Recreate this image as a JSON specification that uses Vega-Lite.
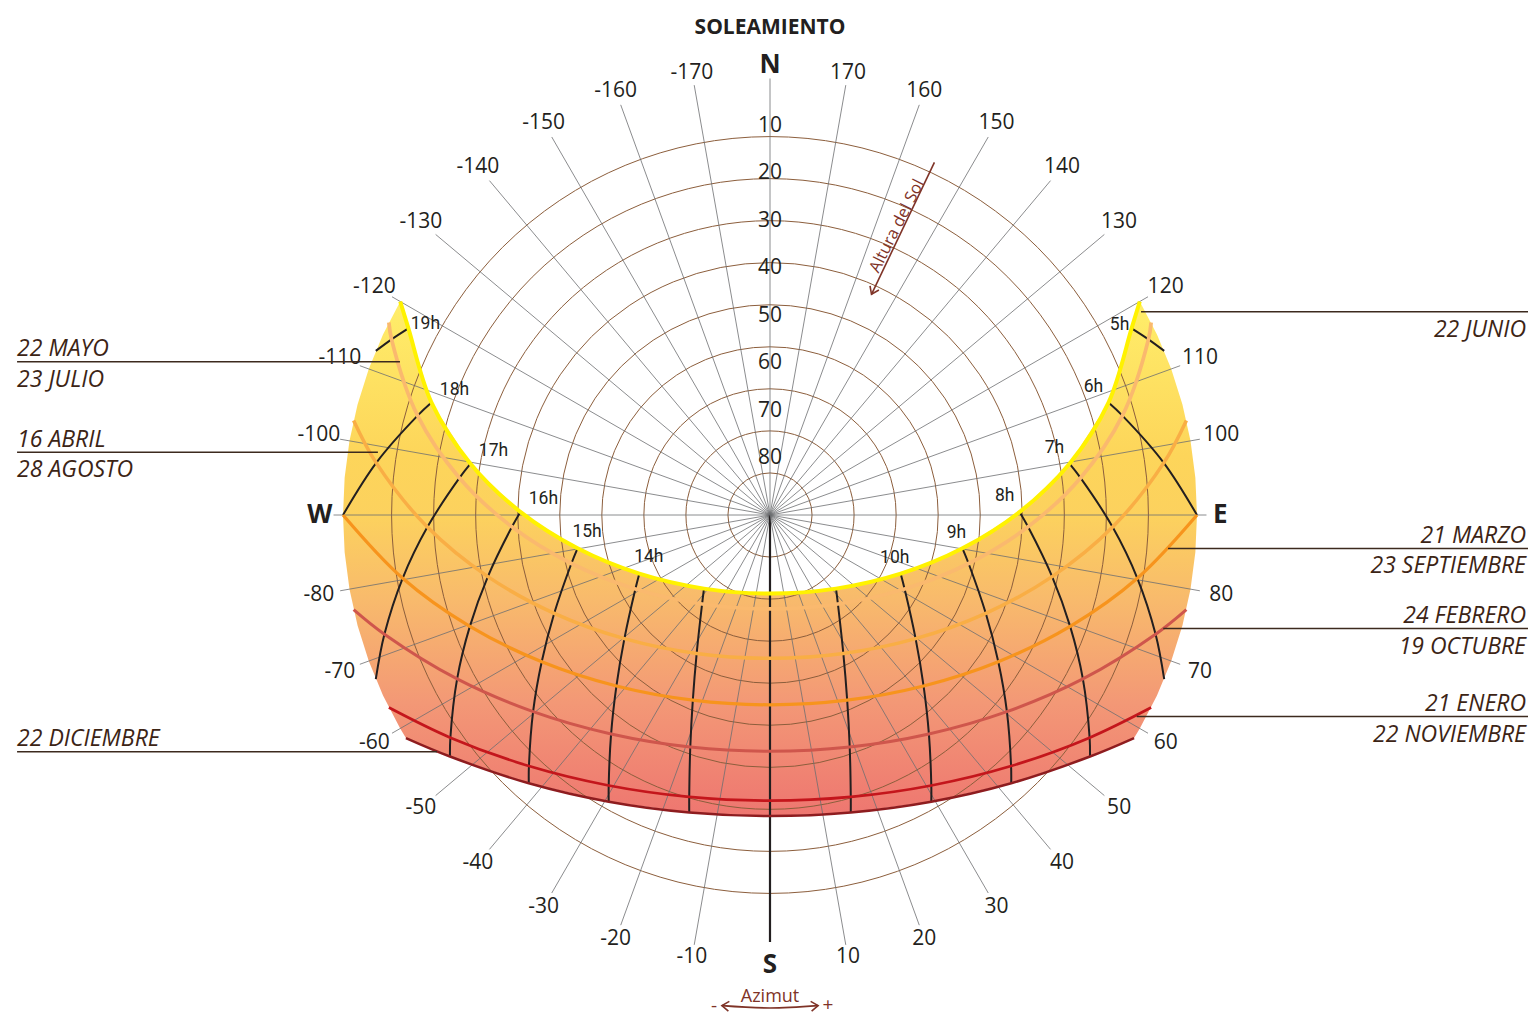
{
  "$schema": "https://vega.github.io/schema/vega-lite/v6.json",
  "width": 1516,
  "height": 1012,
  "autosize": {"type": "none"},
  "padding": {"left": 12, "top": 9, "right": 0, "bottom": 0},
  "background": "white",
  "config": {"view": {"stroke": null}},
  "datasets": {
    "alts": [{"alt": 0}, {"alt": 10}, {"alt": 20}, {"alt": 30}, {"alt": 40}, {"alt": 50}, {"alt": 60}, {"alt": 70}, {"alt": 80}],
    "azs": [
      {"az": -170}, {"az": -160}, {"az": -150}, {"az": -140}, {"az": -130}, {"az": -120}, {"az": -110}, {"az": -100}, {"az": -90},
      {"az": -80}, {"az": -70}, {"az": -60}, {"az": -50}, {"az": -40}, {"az": -30}, {"az": -20}, {"az": -10}, {"az": 0},
      {"az": 10}, {"az": 20}, {"az": 30}, {"az": 40}, {"az": 50}, {"az": 60}, {"az": 70}, {"az": 80}, {"az": 90},
      {"az": 100}, {"az": 110}, {"az": 120}, {"az": 130}, {"az": 140}, {"az": 150}, {"az": 160}, {"az": 170}, {"az": 180}
    ],
    "azlab": [
      {"az": -170, "t": "-170"}, {"az": -160, "t": "-160"}, {"az": -150, "t": "-150"}, {"az": -140, "t": "-140"},
      {"az": -130, "t": "-130"}, {"az": -120, "t": "-120"}, {"az": -110, "t": "-110"}, {"az": -100, "t": "-100"},
      {"az": -80, "t": "-80"}, {"az": -70, "t": "-70"}, {"az": -60, "t": "-60"}, {"az": -50, "t": "-50"},
      {"az": -40, "t": "-40"}, {"az": -30, "t": "-30"}, {"az": -20, "t": "-20"}, {"az": -10, "t": "-10"},
      {"az": 10, "t": "10"}, {"az": 20, "t": "20"}, {"az": 30, "t": "30"}, {"az": 40, "t": "40"},
      {"az": 50, "t": "50"}, {"az": 60, "t": "60"}, {"az": 70, "t": "70"}, {"az": 80, "t": "80"},
      {"az": 100, "t": "100"}, {"az": 110, "t": "110"}, {"az": 120, "t": "120"}, {"az": 130, "t": "130"},
      {"az": 140, "t": "140"}, {"az": 150, "t": "150"}, {"az": 160, "t": "160"}, {"az": 170, "t": "170"}
    ],
    "cards": [{"az": 180, "t": "N"}, {"az": 0, "t": "S"}, {"az": 90, "t": "E"}, {"az": -90, "t": "W"}],
    "leaders": [
      {"t1": "22 MAYO", "t2": "23 JULIO", "side": "L", "az": -112.5, "alt": 5.58},
      {"t1": "16 ABRIL", "t2": "28 AGOSTO", "side": "L", "az": -99.1, "alt": 6.3},
      {"t1": "22 DICIEMBRE", "t2": "", "side": "L", "az": -54.6, "alt": 3.9},
      {"t1": "", "t2": "22 JUNIO", "side": "R", "az": 118.7, "alt": 0.84},
      {"t1": "21 MARZO", "t2": "23 SEPTIEMBRE", "side": "R", "az": 85.2, "alt": 5.8},
      {"t1": "24 FEBRERO", "t2": "19 OCTUBRE", "side": "R", "az": 73.9, "alt": 3.73},
      {"t1": "21 ENERO", "t2": "22 NOVIEMBRE", "side": "R", "az": 61.2, "alt": 1.79}
    ],
    "azarrow": [{"az": -5.6, "alt": -13.9}, {"az": 0, "alt": -13.9}, {"az": 5.6, "alt": -13.9}],
    "sun": [
      {"d": "d1", "o": 1, "h": null, "az": -120, "alt": 0},
      {"d": "d1", "o": 1, "h": 19, "az": -117.3, "alt": 4.23},
      {"d": "d1", "o": 1, "h": 18, "az": -108.37, "alt": 14.82},
      {"d": "d1", "o": 1, "h": 17, "az": -99.73, "alt": 25.95},
      {"d": "d1", "o": 1, "h": 16, "az": -90.71, "alt": 37.38},
      {"d": "d1", "o": 1, "h": 15, "az": -80.18, "alt": 48.83},
      {"d": "d1", "o": 1, "h": 14, "az": -65.81, "alt": 59.8},
      {"d": "d1", "o": 1, "h": 13, "az": -41.87, "alt": 69.16},
      {"d": "d1", "o": 1, "h": 12, "az": 0, "alt": 73.44},
      {"d": "d1", "o": 1, "h": 11, "az": 41.87, "alt": 69.16},
      {"d": "d1", "o": 1, "h": 10, "az": 65.81, "alt": 59.8},
      {"d": "d1", "o": 1, "h": 9, "az": 80.18, "alt": 48.83},
      {"d": "d1", "o": 1, "h": 8, "az": 90.71, "alt": 37.38},
      {"d": "d1", "o": 1, "h": 7, "az": 99.73, "alt": 25.95},
      {"d": "d1", "o": 1, "h": 6, "az": 108.37, "alt": 14.82},
      {"d": "d1", "o": 1, "h": 5, "az": 117.3, "alt": 4.23},
      {"d": "d1", "o": 1, "h": null, "az": 120, "alt": 0},

      {"d": "d2", "o": 2, "h": null, "az": -116.8, "alt": 0},
      {"d": "d2", "o": 2, "h": 19, "az": -114.9, "alt": 2.06},
      {"d": "d2", "o": 2, "h": 18, "az": -105.74, "alt": 12.83},
      {"d": "d2", "o": 2, "h": 17, "az": -96.81, "alt": 24.08},
      {"d": "d2", "o": 2, "h": 16, "az": -87.38, "alt": 35.55},
      {"d": "d2", "o": 2, "h": 15, "az": -76.27, "alt": 46.91},
      {"d": "d2", "o": 2, "h": 14, "az": -61.2, "alt": 57.62},
      {"d": "d2", "o": 2, "h": 13, "az": -37.35, "alt": 66.4},
      {"d": "d2", "o": 2, "h": 12, "az": 0, "alt": 70.2},
      {"d": "d2", "o": 2, "h": 11, "az": 37.35, "alt": 66.4},
      {"d": "d2", "o": 2, "h": 10, "az": 61.2, "alt": 57.62},
      {"d": "d2", "o": 2, "h": 9, "az": 76.27, "alt": 46.91},
      {"d": "d2", "o": 2, "h": 8, "az": 87.38, "alt": 35.55},
      {"d": "d2", "o": 2, "h": 7, "az": 96.81, "alt": 24.08},
      {"d": "d2", "o": 2, "h": 6, "az": 105.74, "alt": 12.83},
      {"d": "d2", "o": 2, "h": 5, "az": 114.9, "alt": 2.06},
      {"d": "d2", "o": 2, "h": null, "az": 116.8, "alt": 0},

      {"d": "d3", "o": 3, "h": null, "az": -102.8, "alt": 0},
      {"d": "d3", "o": 3, "h": 18, "az": -97.54, "alt": 6.28},
      {"d": "d3", "o": 3, "h": 17, "az": -87.98, "alt": 17.74},
      {"d": "d3", "o": 3, "h": 16, "az": -77.68, "alt": 29.13},
      {"d": "d3", "o": 3, "h": 15, "az": -65.5, "alt": 40.02},
      {"d": "d3", "o": 3, "h": 14, "az": -49.67, "alt": 49.74},
      {"d": "d3", "o": 3, "h": 13, "az": -27.91, "alt": 56.98},
      {"d": "d3", "o": 3, "h": 12, "az": 0, "alt": 59.8},
      {"d": "d3", "o": 3, "h": 11, "az": 27.91, "alt": 56.98},
      {"d": "d3", "o": 3, "h": 10, "az": 49.67, "alt": 49.74},
      {"d": "d3", "o": 3, "h": 9, "az": 65.5, "alt": 40.02},
      {"d": "d3", "o": 3, "h": 8, "az": 77.68, "alt": 29.13},
      {"d": "d3", "o": 3, "h": 7, "az": 87.98, "alt": 17.74},
      {"d": "d3", "o": 3, "h": 6, "az": 97.54, "alt": 6.28},
      {"d": "d3", "o": 3, "h": null, "az": 102.8, "alt": 0},

      {"d": "d4", "o": 4, "h": 18, "az": -90, "alt": 0},
      {"d": "d4", "o": 4, "h": 17, "az": -80.23, "alt": 11.43},
      {"d": "d4", "o": 4, "h": 16, "az": -69.64, "alt": 22.52},
      {"d": "d4", "o": 4, "h": 15, "az": -57.27, "alt": 32.8},
      {"d": "d4", "o": 4, "h": 14, "az": -41.93, "alt": 41.56},
      {"d": "d4", "o": 4, "h": 13, "az": -22.63, "alt": 47.72},
      {"d": "d4", "o": 4, "h": 12, "az": 0, "alt": 50},
      {"d": "d4", "o": 4, "h": 11, "az": 22.63, "alt": 47.72},
      {"d": "d4", "o": 4, "h": 10, "az": 41.93, "alt": 41.56},
      {"d": "d4", "o": 4, "h": 9, "az": 57.27, "alt": 32.8},
      {"d": "d4", "o": 4, "h": 8, "az": 69.64, "alt": 22.52},
      {"d": "d4", "o": 4, "h": 7, "az": 80.23, "alt": 11.43},
      {"d": "d4", "o": 4, "h": 6, "az": 90, "alt": 0},

      {"d": "d5", "o": 5, "h": null, "az": -77.2, "alt": 0},
      {"d": "d5", "o": 5, "h": 17, "az": -72.82, "alt": 4.93},
      {"d": "d5", "o": 5, "h": 16, "az": -62.35, "alt": 15.55},
      {"d": "d5", "o": 5, "h": 15, "az": -50.31, "alt": 25.11},
      {"d": "d5", "o": 5, "h": 14, "az": -35.97, "alt": 32.98},
      {"d": "d5", "o": 5, "h": 13, "az": -18.96, "alt": 38.29},
      {"d": "d5", "o": 5, "h": 12, "az": 0, "alt": 40.2},
      {"d": "d5", "o": 5, "h": 11, "az": 18.96, "alt": 38.29},
      {"d": "d5", "o": 5, "h": 10, "az": 35.97, "alt": 32.98},
      {"d": "d5", "o": 5, "h": 9, "az": 50.31, "alt": 25.11},
      {"d": "d5", "o": 5, "h": 8, "az": 62.35, "alt": 15.55},
      {"d": "d5", "o": 5, "h": 7, "az": 72.82, "alt": 4.93},
      {"d": "d5", "o": 5, "h": null, "az": 77.2, "alt": 0},

      {"d": "d6", "o": 6, "h": null, "az": -63.2, "alt": 0},
      {"d": "d6", "o": 6, "h": 16, "az": -55.14, "alt": 7.9},
      {"d": "d6", "o": 6, "h": 15, "az": -43.84, "alt": 16.64},
      {"d": "d6", "o": 6, "h": 14, "az": -30.81, "alt": 23.62},
      {"d": "d6", "o": 6, "h": 13, "az": -15.99, "alt": 28.19},
      {"d": "d6", "o": 6, "h": 12, "az": 0, "alt": 29.8},
      {"d": "d6", "o": 6, "h": 11, "az": 15.99, "alt": 28.19},
      {"d": "d6", "o": 6, "h": 10, "az": 30.81, "alt": 23.62},
      {"d": "d6", "o": 6, "h": 9, "az": 43.84, "alt": 16.64},
      {"d": "d6", "o": 6, "h": 8, "az": 55.14, "alt": 7.9},
      {"d": "d6", "o": 6, "h": null, "az": 63.2, "alt": 0},

      {"d": "d7", "o": 7, "h": null, "az": -58.5, "alt": 0},
      {"d": "d7", "o": 7, "h": 16, "az": -52.96, "alt": 5.49},
      {"d": "d7", "o": 7, "h": 15, "az": -41.96, "alt": 13.96},
      {"d": "d7", "o": 7, "h": 14, "az": -29.36, "alt": 20.66},
      {"d": "d7", "o": 7, "h": 13, "az": -15.19, "alt": 25.03},
      {"d": "d7", "o": 7, "h": 12, "az": 0, "alt": 26.56},
      {"d": "d7", "o": 7, "h": 11, "az": 15.19, "alt": 25.03},
      {"d": "d7", "o": 7, "h": 10, "az": 29.36, "alt": 20.66},
      {"d": "d7", "o": 7, "h": 9, "az": 41.96, "alt": 13.96},
      {"d": "d7", "o": 7, "h": 8, "az": 52.96, "alt": 5.49},
      {"d": "d7", "o": 7, "h": null, "az": 58.5, "alt": 0},

      {"d": "hz", "o": 2.5, "h": 19, "az": -112.6, "alt": 0},
      {"d": "hz", "o": 2.5, "h": 5, "az": 112.6, "alt": 0},
      {"d": "hz", "o": 5.5, "h": 17, "az": -67.4, "alt": 0},
      {"d": "hz", "o": 5.5, "h": 7, "az": 67.4, "alt": 0},

      {"d": "hE", "o": 0, "h": null, "az": 115, "alt": 0},
      {"d": "hE", "o": 0, "h": null, "az": 110, "alt": 0},
      {"d": "hE", "o": 0, "h": null, "az": 105, "alt": 0},
      {"d": "hE", "o": 0, "h": null, "az": 100, "alt": 0},
      {"d": "hE", "o": 0, "h": null, "az": 95, "alt": 0},
      {"d": "hE", "o": 0, "h": null, "az": 90, "alt": 0},
      {"d": "hE", "o": 0, "h": null, "az": 85, "alt": 0},
      {"d": "hE", "o": 0, "h": null, "az": 80, "alt": 0},
      {"d": "hE", "o": 0, "h": null, "az": 75, "alt": 0},
      {"d": "hE", "o": 0, "h": null, "az": 70, "alt": 0},
      {"d": "hE", "o": 0, "h": null, "az": 65, "alt": 0},
      {"d": "hE", "o": 0, "h": null, "az": 60, "alt": 0},
      {"d": "hW", "o": 0, "h": null, "az": -60, "alt": 0},
      {"d": "hW", "o": 0, "h": null, "az": -65, "alt": 0},
      {"d": "hW", "o": 0, "h": null, "az": -70, "alt": 0},
      {"d": "hW", "o": 0, "h": null, "az": -75, "alt": 0},
      {"d": "hW", "o": 0, "h": null, "az": -80, "alt": 0},
      {"d": "hW", "o": 0, "h": null, "az": -85, "alt": 0},
      {"d": "hW", "o": 0, "h": null, "az": -90, "alt": 0},
      {"d": "hW", "o": 0, "h": null, "az": -95, "alt": 0},
      {"d": "hW", "o": 0, "h": null, "az": -100, "alt": 0},
      {"d": "hW", "o": 0, "h": null, "az": -105, "alt": 0},
      {"d": "hW", "o": 0, "h": null, "az": -110, "alt": 0},
      {"d": "hW", "o": 0, "h": null, "az": -115, "alt": 0}
    ]
  },
  "layer": [
    {
      "data": {"name": "sun"},
      "transform": [
        {"filter": "datum.d == 'd1' || datum.d == 'd7' || datum.d == 'hE' || datum.d == 'hW'"},
        {"calculate": "(90 - datum.alt) * sin(datum.az * PI / 180)", "as": "px"},
        {"calculate": "-(90 - datum.alt) * cos(datum.az * PI / 180)", "as": "py"},
        {"calculate": "datum.d == 'd1' ? datum.az : (datum.d == 'hE' ? 1000 - datum.az : (datum.d == 'd7' ? 2000 - datum.az : 3000 - datum.az))", "as": "ord"}
      ],
      "mark": {
        "type": "line",
        "interpolate": "linear-closed",
        "strokeWidth": 0,
        "fill": {
          "gradient": "linear", "x1": 0, "y1": 0, "x2": 0, "y2": 1,
          "stops": [
            {"offset": 0, "color": "#FFEE6A"},
            {"offset": 0.3, "color": "#FDD55A"},
            {"offset": 0.42, "color": "#FCD15E"},
            {"offset": 0.58, "color": "#F8BA6C"},
            {"offset": 0.78, "color": "#F39876"},
            {"offset": 1, "color": "#EE7670"}
          ]
        }
      },
      "encoding": {
        "x": {"field": "px", "type": "quantitative", "scale": {"domain": [-159.77, 159.77], "nice": false, "zero": false}, "axis": null},
        "y": {"field": "py", "type": "quantitative", "scale": {"domain": [-106.65, 106.65], "nice": false, "zero": false}, "axis": null},
        "order": {"field": "ord", "type": "quantitative"}
      }
    },
    {
      "data": {"name": "alts"},
      "transform": [{"calculate": "90 - datum.alt", "as": "rr"}],
      "mark": {"type": "point", "shape": "circle", "filled": false, "stroke": "#8C5E3C", "strokeWidth": 1, "opacity": 1},
      "encoding": {
        "x": {"datum": 0, "type": "quantitative", "scale": {"domain": [-159.77, 159.77], "nice": false, "zero": false}, "axis": null},
        "y": {"datum": 0, "type": "quantitative", "scale": {"domain": [-106.65, 106.65], "nice": false, "zero": false}, "axis": null},
        "size": {"field": "rr", "type": "quantitative", "legend": null, "scale": {"type": "pow", "exponent": 2, "domain": [0, 90], "range": [0, 572805], "zero": true}}
      }
    },
    {
      "data": {"name": "azs"},
      "transform": [
        {"calculate": "(datum.az == 0 ? 90 : 92) * sin(datum.az * PI / 180)", "as": "xe"},
        {"calculate": "-(datum.az == 0 ? 90 : 92) * cos(datum.az * PI / 180)", "as": "ye"},
        {"calculate": "0", "as": "zero"}
      ],
      "mark": {"type": "rule"},
      "encoding": {
        "x": {"field": "zero", "type": "quantitative", "scale": {"domain": [-159.77, 159.77], "nice": false, "zero": false}, "axis": null},
        "y": {"field": "zero", "type": "quantitative", "scale": {"domain": [-106.65, 106.65], "nice": false, "zero": false}, "axis": null},
        "x2": {"field": "xe"},
        "y2": {"field": "ye"},
        "color": {"condition": {"test": "datum.az == 0", "value": "#231F20"}, "value": "#6D6E71"},
        "strokeWidth": {"condition": {"test": "datum.az == 0", "value": 2.2}, "value": 0.8}
      }
    },
    {
      "data": {"name": "alts"},
      "transform": [{"filter": "datum.alt > 0"}, {"calculate": "90 - datum.alt", "as": "rr"}, {"calculate": "'' + datum.alt", "as": "t"}, {"calculate": "0", "as": "zero"}],
      "mark": {"type": "text", "font": "Open Sans", "fontSize": 21, "color": "#231F20", "baseline": "alphabetic", "align": "center", "dy": -3.5},
      "encoding": {
        "x": {"field": "zero", "type": "quantitative", "scale": {"domain": [-159.77, 159.77], "nice": false, "zero": false}, "axis": null},
        "y": {"field": "rr", "type": "quantitative", "scale": {"domain": [-106.65, 106.65], "nice": false, "zero": false}, "axis": null},
        "text": {"field": "t"}
      }
    },
    {
      "data": {"name": "sun"},
      "transform": [
        {"filter": "datum.h != null"},
        {"calculate": "(90 - datum.alt) * sin(datum.az * PI / 180)", "as": "px"},
        {"calculate": "-(90 - datum.alt) * cos(datum.az * PI / 180)", "as": "py"}
      ],
      "mark": {"type": "line", "interpolate": "catmull-rom", "color": "#231F20", "strokeWidth": 2},
      "encoding": {
        "x": {"field": "px", "type": "quantitative", "scale": {"domain": [-159.77, 159.77], "nice": false, "zero": false}, "axis": null},
        "y": {"field": "py", "type": "quantitative", "scale": {"domain": [-106.65, 106.65], "nice": false, "zero": false}, "axis": null},
        "detail": {"field": "h", "type": "nominal"},
        "order": {"field": "o", "type": "quantitative"}
      }
    },
    {
      "data": {"name": "sun"},
      "transform": [
        {"filter": "datum.d == 'd1' || datum.d == 'd2' || datum.d == 'd3' || datum.d == 'd4' || datum.d == 'd5' || datum.d == 'd6' || datum.d == 'd7'"},
        {"calculate": "(90 - datum.alt) * sin(datum.az * PI / 180)", "as": "px"},
        {"calculate": "-(90 - datum.alt) * cos(datum.az * PI / 180)", "as": "py"}
      ],
      "mark": {"type": "line", "interpolate": "catmull-rom"},
      "encoding": {
        "x": {"field": "px", "type": "quantitative", "scale": {"domain": [-159.77, 159.77], "nice": false, "zero": false}, "axis": null},
        "y": {"field": "py", "type": "quantitative", "scale": {"domain": [-106.65, 106.65], "nice": false, "zero": false}, "axis": null},
        "color": {"field": "d", "type": "nominal", "legend": null, "scale": {"domain": ["d1", "d2", "d3", "d4", "d5", "d6", "d7"], "range": ["#FFF200", "#FAB96E", "#F9AE45", "#F7941D", "#CF564C", "#C4161C", "#8E1C1F"]}},
        "strokeWidth": {"field": "d", "type": "nominal", "legend": null, "scale": {"domain": ["d1", "d2", "d3", "d4", "d5", "d6", "d7"], "range": [4, 2.5, 2.5, 2.5, 2.5, 2.5, 2.5]}},
        "order": {"field": "az", "type": "quantitative"}
      }
    },
    {
      "data": {"name": "sun"},
      "transform": [
        {"filter": "datum.d == 'd1' && datum.h == 5"},
        {"calculate": "(90 - datum.alt) * sin(datum.az * PI / 180)", "as": "px"},
        {"calculate": "-(90 - datum.alt) * cos(datum.az * PI / 180)", "as": "py"},
        {"calculate": "datum.h + 'h'", "as": "lab"}
      ],
      "mark": {"type": "text", "font": "Roboto", "fontSize": 17.5, "color": "#231F20", "align": "center", "baseline": "middle", "dx": -12, "dy": -3},
      "encoding": {
        "x": {"field": "px", "type": "quantitative", "scale": {"domain": [-159.77, 159.77], "nice": false, "zero": false}, "axis": null},
        "y": {"field": "py", "type": "quantitative", "scale": {"domain": [-106.65, 106.65], "nice": false, "zero": false}, "axis": null},
        "text": {"field": "lab"}
      }
    },
    {
      "data": {"name": "sun"},
      "transform": [
        {"filter": "datum.d == 'd1' && datum.h >= 6 && datum.h <= 8"},
        {"calculate": "(90 - datum.alt) * sin(datum.az * PI / 180)", "as": "px"},
        {"calculate": "-(90 - datum.alt) * cos(datum.az * PI / 180)", "as": "py"},
        {"calculate": "datum.h + 'h'", "as": "lab"}
      ],
      "mark": {"type": "text", "font": "Roboto", "fontSize": 17.5, "color": "#231F20", "align": "center", "baseline": "middle", "dx": -15, "dy": -15.5},
      "encoding": {
        "x": {"field": "px", "type": "quantitative", "scale": {"domain": [-159.77, 159.77], "nice": false, "zero": false}, "axis": null},
        "y": {"field": "py", "type": "quantitative", "scale": {"domain": [-106.65, 106.65], "nice": false, "zero": false}, "axis": null},
        "text": {"field": "lab"}
      }
    },
    {
      "data": {"name": "sun"},
      "transform": [
        {"filter": "datum.d == 'd1' && datum.h >= 9 && datum.h <= 10"},
        {"calculate": "(90 - datum.alt) * sin(datum.az * PI / 180)", "as": "px"},
        {"calculate": "-(90 - datum.alt) * cos(datum.az * PI / 180)", "as": "py"},
        {"calculate": "datum.h + 'h'", "as": "lab"}
      ],
      "mark": {"type": "text", "font": "Roboto", "fontSize": 17.5, "color": "#231F20", "align": "center", "baseline": "middle", "dx": -6, "dy": -15.5},
      "encoding": {
        "x": {"field": "px", "type": "quantitative", "scale": {"domain": [-159.77, 159.77], "nice": false, "zero": false}, "axis": null},
        "y": {"field": "py", "type": "quantitative", "scale": {"domain": [-106.65, 106.65], "nice": false, "zero": false}, "axis": null},
        "text": {"field": "lab"}
      }
    },
    {
      "data": {"name": "sun"},
      "transform": [
        {"filter": "datum.d == 'd1' && datum.h == 19"},
        {"calculate": "(90 - datum.alt) * sin(datum.az * PI / 180)", "as": "px"},
        {"calculate": "-(90 - datum.alt) * cos(datum.az * PI / 180)", "as": "py"},
        {"calculate": "datum.h + 'h'", "as": "lab"}
      ],
      "mark": {"type": "text", "font": "Roboto", "fontSize": 17.5, "color": "#231F20", "align": "center", "baseline": "middle", "dx": 17, "dy": -4},
      "encoding": {
        "x": {"field": "px", "type": "quantitative", "scale": {"domain": [-159.77, 159.77], "nice": false, "zero": false}, "axis": null},
        "y": {"field": "py", "type": "quantitative", "scale": {"domain": [-106.65, 106.65], "nice": false, "zero": false}, "axis": null},
        "text": {"field": "lab"}
      }
    },
    {
      "data": {"name": "sun"},
      "transform": [
        {"filter": "datum.d == 'd1' && datum.h >= 16 && datum.h <= 18"},
        {"calculate": "(90 - datum.alt) * sin(datum.az * PI / 180)", "as": "px"},
        {"calculate": "-(90 - datum.alt) * cos(datum.az * PI / 180)", "as": "py"},
        {"calculate": "datum.h + 'h'", "as": "lab"}
      ],
      "mark": {"type": "text", "font": "Roboto", "fontSize": 17.5, "color": "#231F20", "align": "center", "baseline": "middle", "dx": 23, "dy": -12.5},
      "encoding": {
        "x": {"field": "px", "type": "quantitative", "scale": {"domain": [-159.77, 159.77], "nice": false, "zero": false}, "axis": null},
        "y": {"field": "py", "type": "quantitative", "scale": {"domain": [-106.65, 106.65], "nice": false, "zero": false}, "axis": null},
        "text": {"field": "lab"}
      }
    },
    {
      "data": {"name": "sun"},
      "transform": [
        {"filter": "datum.d == 'd1' && datum.h >= 14 && datum.h <= 15"},
        {"calculate": "(90 - datum.alt) * sin(datum.az * PI / 180)", "as": "px"},
        {"calculate": "-(90 - datum.alt) * cos(datum.az * PI / 180)", "as": "py"},
        {"calculate": "datum.h + 'h'", "as": "lab"}
      ],
      "mark": {"type": "text", "font": "Roboto", "fontSize": 17.5, "color": "#231F20", "align": "center", "baseline": "middle", "dx": 9.5, "dy": -16.5},
      "encoding": {
        "x": {"field": "px", "type": "quantitative", "scale": {"domain": [-159.77, 159.77], "nice": false, "zero": false}, "axis": null},
        "y": {"field": "py", "type": "quantitative", "scale": {"domain": [-106.65, 106.65], "nice": false, "zero": false}, "axis": null},
        "text": {"field": "lab"}
      }
    },
    {
      "data": {"name": "azlab"},
      "transform": [
        {"calculate": "94.3 + 2.3 * abs(sin(datum.az * PI / 180))", "as": "lr"},
        {"calculate": "datum.lr * sin(datum.az * PI / 180)", "as": "lx"},
        {"calculate": "-datum.lr * cos(datum.az * PI / 180)", "as": "ly"}
      ],
      "mark": {"type": "text", "font": "Open Sans", "fontSize": 21, "color": "#231F20", "align": "center", "baseline": "middle"},
      "encoding": {
        "x": {"field": "lx", "type": "quantitative", "scale": {"domain": [-159.77, 159.77], "nice": false, "zero": false}, "axis": null},
        "y": {"field": "ly", "type": "quantitative", "scale": {"domain": [-106.65, 106.65], "nice": false, "zero": false}, "axis": null},
        "text": {"field": "t"}
      }
    },
    {
      "data": {"name": "cards"},
      "transform": [
        {"calculate": "94.9 * sin(datum.az * PI / 180)", "as": "lx"},
        {"calculate": "-94.9 * cos(datum.az * PI / 180)", "as": "ly"}
      ],
      "mark": {"type": "text", "font": "Open Sans", "fontSize": 26, "fontWeight": "bold", "color": "#231F20", "align": "center", "baseline": "middle"},
      "encoding": {
        "x": {"field": "lx", "type": "quantitative", "scale": {"domain": [-159.77, 159.77], "nice": false, "zero": false}, "axis": null},
        "y": {"field": "ly", "type": "quantitative", "scale": {"domain": [-106.65, 106.65], "nice": false, "zero": false}, "axis": null},
        "text": {"field": "t"}
      }
    },
    {
      "data": {"name": "leaders"},
      "transform": [
        {"calculate": "(90 - datum.alt) * sin(datum.az * PI / 180)", "as": "px"},
        {"calculate": "-(90 - datum.alt) * cos(datum.az * PI / 180)", "as": "py"},
        {"calculate": "datum.side == 'L' ? -158.7 : 159.77", "as": "xe"}
      ],
      "mark": {"type": "rule", "color": "#3C2A1E", "strokeWidth": 1.5},
      "encoding": {
        "x": {"field": "px", "type": "quantitative", "scale": {"domain": [-159.77, 159.77], "nice": false, "zero": false}, "axis": null},
        "x2": {"field": "xe"},
        "y": {"field": "py", "type": "quantitative", "scale": {"domain": [-106.65, 106.65], "nice": false, "zero": false}, "axis": null}
      }
    },
    {
      "data": {"name": "leaders"},
      "transform": [
        {"filter": "datum.side == 'L'"},
        {"calculate": "-(90 - datum.alt) * cos(datum.az * PI / 180)", "as": "py"},
        {"calculate": "-158.7", "as": "tx"}
      ],
      "mark": {"type": "text", "font": "Open Sans", "fontStyle": "italic", "fontSize": 23, "color": "#3C2415", "align": "left", "baseline": "alphabetic", "dy": -5.5},
      "encoding": {
        "x": {"field": "tx", "type": "quantitative", "scale": {"domain": [-159.77, 159.77], "nice": false, "zero": false}, "axis": null},
        "y": {"field": "py", "type": "quantitative", "scale": {"domain": [-106.65, 106.65], "nice": false, "zero": false}, "axis": null},
        "text": {"field": "t1"}
      }
    },
    {
      "data": {"name": "leaders"},
      "transform": [
        {"filter": "datum.side == 'L'"},
        {"calculate": "-(90 - datum.alt) * cos(datum.az * PI / 180)", "as": "py"},
        {"calculate": "-158.7", "as": "tx"}
      ],
      "mark": {"type": "text", "font": "Open Sans", "fontStyle": "italic", "fontSize": 23, "color": "#3C2415", "align": "left", "baseline": "alphabetic", "dy": 25},
      "encoding": {
        "x": {"field": "tx", "type": "quantitative", "scale": {"domain": [-159.77, 159.77], "nice": false, "zero": false}, "axis": null},
        "y": {"field": "py", "type": "quantitative", "scale": {"domain": [-106.65, 106.65], "nice": false, "zero": false}, "axis": null},
        "text": {"field": "t2"}
      }
    },
    {
      "data": {"name": "leaders"},
      "transform": [
        {"filter": "datum.side == 'R'"},
        {"calculate": "-(90 - datum.alt) * cos(datum.az * PI / 180)", "as": "py"},
        {"calculate": "159.35", "as": "tx"}
      ],
      "mark": {"type": "text", "font": "Open Sans", "fontStyle": "italic", "fontSize": 23, "color": "#3C2415", "align": "right", "baseline": "alphabetic", "dy": -5.5},
      "encoding": {
        "x": {"field": "tx", "type": "quantitative", "scale": {"domain": [-159.77, 159.77], "nice": false, "zero": false}, "axis": null},
        "y": {"field": "py", "type": "quantitative", "scale": {"domain": [-106.65, 106.65], "nice": false, "zero": false}, "axis": null},
        "text": {"field": "t1"}
      }
    },
    {
      "data": {"name": "leaders"},
      "transform": [
        {"filter": "datum.side == 'R'"},
        {"calculate": "-(90 - datum.alt) * cos(datum.az * PI / 180)", "as": "py"},
        {"calculate": "159.35", "as": "tx"}
      ],
      "mark": {"type": "text", "font": "Open Sans", "fontStyle": "italic", "fontSize": 23, "color": "#3C2415", "align": "right", "baseline": "alphabetic", "dy": 25},
      "encoding": {
        "x": {"field": "tx", "type": "quantitative", "scale": {"domain": [-159.77, 159.77], "nice": false, "zero": false}, "axis": null},
        "y": {"field": "py", "type": "quantitative", "scale": {"domain": [-106.65, 106.65], "nice": false, "zero": false}, "axis": null},
        "text": {"field": "t2"}
      }
    },
    {
      "data": {"values": [{"t": "SOLEAMIENTO", "x": 0, "y": 102.65}]},
      "mark": {"type": "text", "font": "Open Sans", "fontWeight": "bold", "fontSize": 21, "color": "#231F20", "align": "center", "baseline": "middle"},
      "encoding": {
        "x": {"field": "x", "type": "quantitative", "scale": {"domain": [-159.77, 159.77], "nice": false, "zero": false}, "axis": null},
        "y": {"field": "y", "type": "quantitative", "scale": {"domain": [-106.65, 106.65], "nice": false, "zero": false}, "axis": null},
        "text": {"field": "t"}
      }
    },
    {
      "data": {"values": [{"az": 155, "alt": 8, "az2": 155.3, "alt2": 38.8}]},
      "transform": [
        {"calculate": "(90 - datum.alt) * sin(datum.az * PI / 180)", "as": "px"},
        {"calculate": "-(90 - datum.alt) * cos(datum.az * PI / 180)", "as": "py"},
        {"calculate": "(90 - datum.alt2) * sin(datum.az2 * PI / 180)", "as": "px2"},
        {"calculate": "-(90 - datum.alt2) * cos(datum.az2 * PI / 180)", "as": "py2"}
      ],
      "mark": {"type": "rule", "color": "#7F3327", "strokeWidth": 1.6},
      "encoding": {
        "x": {"field": "px", "type": "quantitative", "scale": {"domain": [-159.77, 159.77], "nice": false, "zero": false}, "axis": null},
        "y": {"field": "py", "type": "quantitative", "scale": {"domain": [-106.65, 106.65], "nice": false, "zero": false}, "axis": null},
        "x2": {"field": "px2"},
        "y2": {"field": "py2"}
      }
    },
    {
      "data": {"values": [{"az": 155.3, "alt": 38.8, "ang": 205}, {"az": -5.6, "alt": -13.9, "ang": 275.6}, {"az": 5.6, "alt": -13.9, "ang": 84.4}]},
      "transform": [
        {"calculate": "(90 - datum.alt) * sin(datum.az * PI / 180)", "as": "px"},
        {"calculate": "-(90 - datum.alt) * cos(datum.az * PI / 180)", "as": "py"}
      ],
      "mark": {"type": "point", "shape": "M -0.7 1 L 0 0 L 0.7 1", "filled": false, "stroke": "#7F3327", "strokeWidth": 1.6, "size": 196, "opacity": 1},
      "encoding": {
        "x": {"field": "px", "type": "quantitative", "scale": {"domain": [-159.77, 159.77], "nice": false, "zero": false}, "axis": null},
        "y": {"field": "py", "type": "quantitative", "scale": {"domain": [-106.65, 106.65], "nice": false, "zero": false}, "axis": null},
        "angle": {"field": "ang", "type": "quantitative", "scale": null}
      }
    },
    {
      "data": {"name": "azarrow"},
      "transform": [
        {"calculate": "(90 - datum.alt) * sin(datum.az * PI / 180)", "as": "px"},
        {"calculate": "-(90 - datum.alt) * cos(datum.az * PI / 180)", "as": "py"}
      ],
      "mark": {"type": "line", "interpolate": "catmull-rom", "color": "#7F3327", "strokeWidth": 1.6},
      "encoding": {
        "x": {"field": "px", "type": "quantitative", "scale": {"domain": [-159.77, 159.77], "nice": false, "zero": false}, "axis": null},
        "y": {"field": "py", "type": "quantitative", "scale": {"domain": [-106.65, 106.65], "nice": false, "zero": false}, "axis": null},
        "order": {"field": "az", "type": "quantitative"}
      }
    },
    {
      "data": {"values": [
        {"t": "Altura del Sol", "x": 26.77, "y": 60.92, "ang": 296.8, "fs": 16.5},
        {"t": "Azimut", "x": 0, "y": -101.6, "ang": 0, "fs": 18},
        {"t": "-", "x": -11.8, "y": -103.5, "ang": 0, "fs": 19},
        {"t": "+", "x": 12.2, "y": -103.3, "ang": 0, "fs": 19}
      ]},
      "mark": {"type": "text", "font": "Open Sans", "color": "#7F3327", "align": "center", "baseline": "middle"},
      "encoding": {
        "x": {"field": "x", "type": "quantitative", "scale": {"domain": [-159.77, 159.77], "nice": false, "zero": false}, "axis": null},
        "y": {"field": "y", "type": "quantitative", "scale": {"domain": [-106.65, 106.65], "nice": false, "zero": false}, "axis": null},
        "text": {"field": "t"},
        "angle": {"field": "ang", "type": "quantitative", "scale": null},
        "size": {"field": "fs", "type": "quantitative", "scale": null}
      }
    }
  ]
}
